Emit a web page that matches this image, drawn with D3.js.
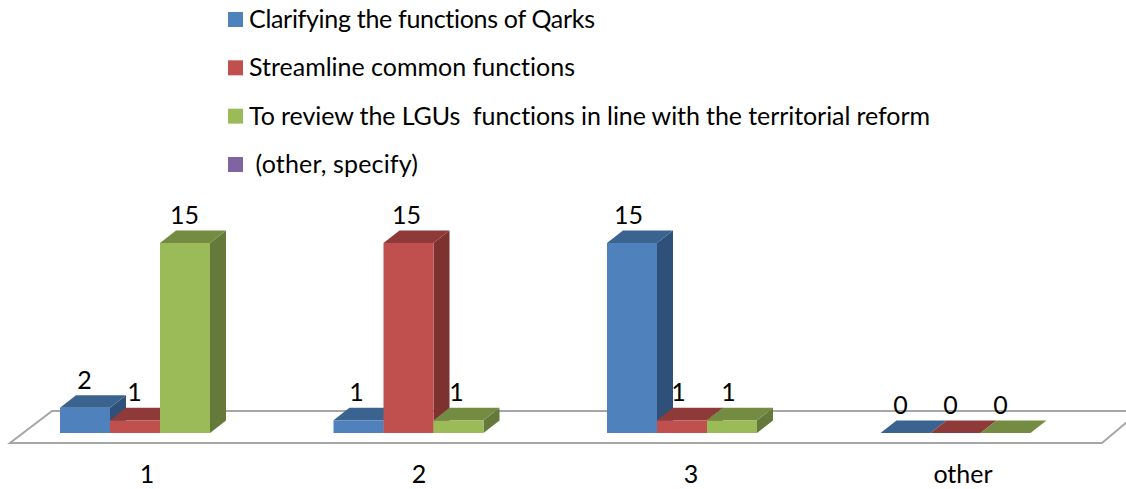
<!DOCTYPE html>
<html>
<head>
<meta charset="utf-8">
<script src="https://cdn.jsdelivr.net/npm/d3@7"></script>
<style>
html, body { margin: 0; padding: 0; background: #fff; }
svg { display: block; }
text { font-family: Lato, "Open Sans", sans-serif; fill: #000; font-variant-ligatures: none; }
</style>
</head>
<body>
<svg class="chart" width="1126" height="489"></svg>
<script>
var categories = ["1", "2", "3", "other"];
var legendNames = ["Clarifying the functions of Qarks", "Streamline common functions",
  "To review the LGUs\u00a0 functions in line with the territorial reform", "\u00a0(other, specify)"];
var seriesKeys = ["a", "b", "c"];
var seriesA = [2, 1, 15, 0];
var seriesB = [1, 15, 1, 0];
var seriesC = [15, 1, 1, 0];

var front = ["#4f81bd", "#c0504d", "#9bbb59", "#8064a2"];
var topFace = ["#3a6390", "#8e3a38", "#748c42"];
var sideFace = ["#2f5079", "#7e3230", "#64793a"];
// Lato runs a bit wider than the original font, so the legend strings get squeezed
var legendTextWidth = [346, 326, 681, 169];

var svg = d3.select("svg.chart");

// depth of the fake 3d
var dx = 16, dy = 12.5;

var x = d3.scaleBand().domain(categories).range([10, 1104]);
var xLabel = d3.scaleBand().domain(categories).range([11, 1099]);
var inner = d3.scaleBand().domain(seriesKeys).range([50, 200]);
var y = d3.scaleLinear().domain([0, 15]).range([433, 243]);

//Floor
var floorFront = 443, floorBack = 411;
svg.append("path")
  .attr("d", "M1126," + floorBack + "L52," + floorBack + "L10," + floorFront + "L1102," + floorFront + "L1128,421")
  .attr("fill", "none")
  .attr("stroke", "#a6a6a6")
  .attr("stroke-width", 2);

var poly = function(pts) { return "M" + pts.map(function(p) { return p.join(","); }).join("L") + "Z"; };

//Bars, left to right so the later ones cover the earlier ones
var allValues = [seriesA, seriesB, seriesC];
categories.forEach(function(cat, c) {
  seriesKeys.forEach(function(key, s) {
    var v = allValues[s][c];
    var x0 = x(cat) + inner(key), x1 = x0 + inner.bandwidth();
    var y0 = y(0), y1 = y(v);
    var g = svg.append("g");
    if (v > 0) {
      g.append("path").attr("fill", sideFace[s])
        .attr("d", poly([[x1, y1], [x1 + dx, y1 - dy], [x1 + dx, y0 - dy], [x1, y0]]));
      g.append("rect").attr("fill", front[s])
        .attr("x", x0).attr("y", y1).attr("width", x1 - x0).attr("height", y0 - y1);
    }
    g.append("path").attr("fill", topFace[s])
      .attr("d", poly([[x0, y1], [x0 + dx, y1 - dy], [x1 + dx, y1 - dy], [x1, y1]]));
  });
});

//Value labels go on top of everything
categories.forEach(function(cat, c) {
  seriesKeys.forEach(function(key, s) {
    var v = allValues[s][c];
    svg.append("text")
      .attr("x", xLabel(cat) + inner(key) + inner.bandwidth() / 2 - 1.5)
      .attr("y", y(v) - dy - 6.5)
      .attr("text-anchor", "middle")
      .attr("font-size", 25)
      .text(v);
  });
});

//Category labels
svg.selectAll("text.cat").data(categories).enter().append("text")
  .attr("class", "cat")
  .attr("x", function(d) { return xLabel(d) + xLabel.bandwidth() / 2; })
  .attr("y", 483)
  .attr("text-anchor", "middle")
  .attr("font-size", 25)
  .text(function(d) { return d; });

//Legend
var legendY = d3.scalePoint().domain(legendNames).range([12, 157]);
var legend = svg.selectAll("g.legend").data(legendNames).enter().append("g")
  .attr("class", "legend")
  .attr("transform", function(d) { return "translate(228," + legendY(d) + ")"; });
legend.append("rect")
  .attr("width", 15).attr("height", 15)
  .attr("fill", function(d, i) { return front[i]; });
legend.append("text")
  .attr("x", 21).attr("y", 16)
  .attr("font-size", 25)
  .attr("textLength", function(d, i) { return legendTextWidth[i]; })
  .attr("lengthAdjust", "spacing")
  .text(function(d) { return d; });
</script>
</body>
</html>
